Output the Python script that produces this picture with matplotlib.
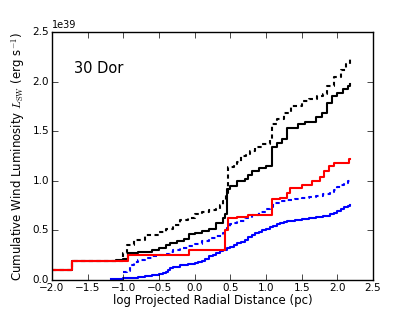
import matplotlib
matplotlib.use("Agg")
import matplotlib.pyplot as plt

plt.style.use("classic")
plt.rcParams["font.family"] = "DejaVu Sans"

# log projected radius (pc) / cumulative L_SW (1e39 erg/s)
black_x = [-2.0, -1.72, -1.1, -1.0, -0.93, -0.8, -0.6, -0.5, -0.4, -0.35, -0.25, -0.15, -0.08, 0.0, 0.1, 0.2, 0.3, 0.4, 0.43, 0.46,
           0.5, 0.6, 0.7, 0.75, 0.8, 0.9, 1.0, 1.08, 1.15, 1.22, 1.3, 1.45, 1.55, 1.7, 1.78, 1.85, 1.92, 2.0, 2.08, 2.15, 2.18]
black_y = [0.10, 0.19, 0.20, 0.215, 0.27, 0.28, 0.30, 0.32, 0.35, 0.37, 0.39, 0.41, 0.46, 0.47, 0.49, 0.51, 0.57, 0.62, 0.67, 0.92,
           0.95, 1.00, 1.02, 1.06, 1.10, 1.13, 1.15, 1.34, 1.38, 1.42, 1.53, 1.57, 1.59, 1.64, 1.68, 1.78, 1.85, 1.89, 1.93, 1.96, 1.98]

black_dash_x = [-2.0, -1.72, -1.0, -0.95, -0.85, -0.7, -0.5, -0.4, -0.3, -0.2, -0.1, 0.0, 0.1, 0.2, 0.3, 0.35, 0.4, 0.44, 0.47,
                0.55, 0.6, 0.65, 0.72, 0.78, 0.85, 0.95, 1.05, 1.08, 1.15, 1.25, 1.35, 1.5, 1.6, 1.72, 1.8, 1.85, 1.95, 2.05, 2.12, 2.18]
black_dash_y = [0.10, 0.19, 0.27, 0.35, 0.40, 0.45, 0.48, 0.51, 0.55, 0.60, 0.62, 0.67, 0.69, 0.71, 0.72, 0.76, 0.80, 0.88, 1.14,
                1.17, 1.19, 1.25, 1.27, 1.30, 1.34, 1.37, 1.42, 1.57, 1.62, 1.68, 1.75, 1.80, 1.82, 1.85, 1.87, 1.96, 2.05, 2.12, 2.18, 2.24]

red_x = [-2.0, -1.72, -0.93, -0.08, 0.43, 0.47, 0.6, 0.75, 1.08, 1.2, 1.3, 1.33, 1.5, 1.65, 1.76, 1.82, 1.88, 1.95, 2.17, 2.18]
red_y = [0.10, 0.19, 0.25, 0.30, 0.50, 0.62, 0.64, 0.66, 0.82, 0.83, 0.88, 0.93, 0.96, 1.00, 1.04, 1.10, 1.15, 1.18, 1.22, 1.22]

blue_dash_x = [-1.0, -0.95, -0.9, -0.85, -0.8, -0.7, -0.6, -0.5, -0.4, -0.35, -0.3, -0.2, -0.1, 0.0, 0.1, 0.2, 0.3, 0.4, 0.45,
               0.5, 0.55, 0.6, 0.7, 0.8, 0.9, 1.0, 1.05, 1.1, 1.2, 1.3, 1.4, 1.5, 1.6, 1.7, 1.8, 1.9, 1.95, 2.0, 2.05, 2.1, 2.15, 2.18]
blue_dash_y = [0.08, 0.09, 0.15, 0.18, 0.20, 0.22, 0.24, 0.25, 0.26, 0.28, 0.30, 0.32, 0.34, 0.36, 0.39, 0.42, 0.44, 0.47, 0.52,
               0.56, 0.57, 0.59, 0.62, 0.66, 0.69, 0.72, 0.74, 0.78, 0.80, 0.81, 0.82, 0.83, 0.84, 0.85, 0.87, 0.89, 0.91, 0.94, 0.96, 0.98, 1.00, 1.02]

blue_x = [-1.17, -1.1, -1.0, -0.9, -0.8, -0.7, -0.6, -0.5, -0.45, -0.4, -0.37, -0.35, -0.3, -0.2, -0.1, 0.0, 0.05, 0.1, 0.15, 0.2,
          0.25, 0.3, 0.35, 0.4, 0.45, 0.5, 0.55, 0.6, 0.65, 0.7, 0.75, 0.8, 0.85, 0.9, 0.95, 1.0, 1.05, 1.1, 1.15, 1.2, 1.25, 1.3,
          1.4, 1.5, 1.6, 1.7, 1.8, 1.9, 1.95, 2.0, 2.05, 2.1, 2.15, 2.18]
blue_y = [0.01, 0.015, 0.02, 0.025, 0.03, 0.04, 0.05, 0.06, 0.07, 0.08, 0.10, 0.12, 0.13, 0.15, 0.16, 0.17, 0.18, 0.19, 0.21, 0.24,
          0.25, 0.27, 0.29, 0.30, 0.32, 0.33, 0.35, 0.37, 0.38, 0.40, 0.43, 0.45, 0.47, 0.48, 0.50, 0.51, 0.53, 0.54, 0.56, 0.57, 0.58, 0.59,
          0.60, 0.61, 0.63, 0.64, 0.65, 0.67, 0.68, 0.70, 0.72, 0.74, 0.75, 0.76]

fig = plt.figure(figsize=(4.15, 3.12), dpi=100, facecolor="white")
ax = fig.add_axes([52 / 415, 32 / 312, 321 / 415, 248 / 312])

sc = 1e39
dash = (3, 2.5)
ax.plot(black_dash_x, [v * sc for v in black_dash_y], color="k", ls="--", dashes=dash, lw=1.5, drawstyle="steps-post")
ax.plot(blue_dash_x, [v * sc for v in blue_dash_y], color="b", ls="--", dashes=dash, lw=1.5, drawstyle="steps-post")
ax.plot(blue_x, [v * sc for v in blue_y], color="b", lw=1.5, drawstyle="steps-post")
ax.plot(black_x, [v * sc for v in black_y], color="k", lw=1.5, drawstyle="steps-post")
ax.plot(red_x, [v * sc for v in red_y], color="r", lw=1.5, drawstyle="steps-post")

ax.set_xlim(-2.0, 2.5)
ax.set_ylim(0, 2.5e39)
ax.tick_params(labelsize=7.5, pad=2)
ax.yaxis.get_offset_text().set_fontsize(7)
ax.set_xlabel("log Projected Radial Distance (pc)", fontsize=8.5, labelpad=1)
ax.set_ylabel(r"Cumulative Wind Luminosity $L_{\rm SW}$ (erg s$^{-1}$)", fontsize=8.5, labelpad=4)
ax.text(0.068, 0.835, "30 Dor", transform=ax.transAxes, fontsize=10.5)

fig.savefig("out.png", dpi=100, facecolor="white")
